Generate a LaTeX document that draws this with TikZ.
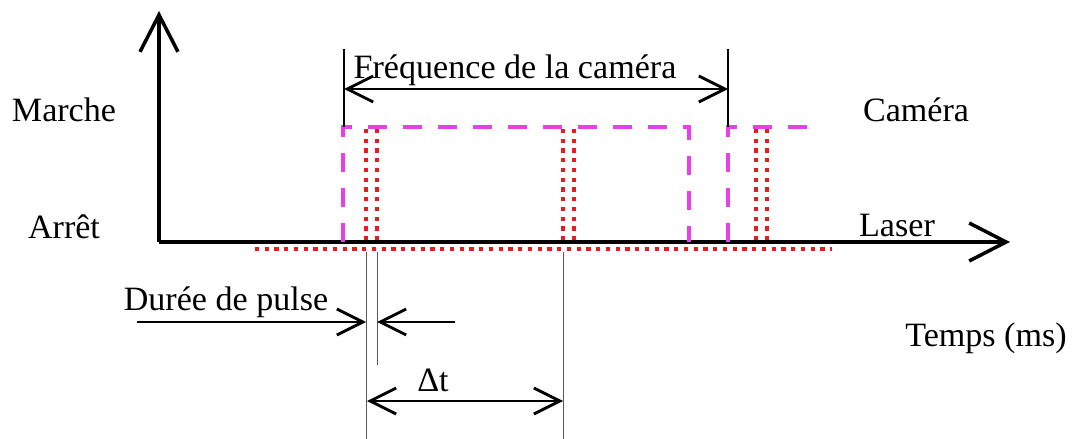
\documentclass[tikz,border=0pt]{standalone}
\usepackage{fontspec}
\setmainfont{Liberation Serif}
\usetikzlibrary{arrows.meta,positioning}
\definecolor{camrose}{RGB}{232,64,232}
\definecolor{laserrouge}{RGB}{228,30,30}

\begin{document}
\begin{tikzpicture}[x=0.02cm,y=-0.02cm,font=\fontsize{19.4}{21}\selectfont,
  lbl/.style={inner sep=0pt},
  axe/.style={line width=2pt,-{Straight Barb[length=0.74cm,width=0.76cm,line width=2pt]}},
  cote/.style={line width=1.6pt},
  pointe/.tip={Straight Barb[length=0.52cm,width=0.52cm,line width=1.6pt]},
  repere/.style={gray!70!black,line width=0.5pt},
  camera/.style={draw=camrose,line width=2.3pt,dash pattern=on 0.38cm off 0.32cm},
  laser/.style={draw=laserrouge,line width=2.4pt,dash pattern=on 0.085cm off 0.11cm}]
\useasboundingbox (0,0) rectangle (1072,439);
% axes
\coordinate (o) at (159,242);
\coordinate (yt) at (159,11);
\coordinate (xt) at (1010,242);
\draw[axe] (o)--(yt);
\draw[axe] (o)--(xt);
% signal camera
\draw[camera] (343,242)--(343,127)--(689,127)--(689,242);
\draw[camera] (728,242)--(728,127)--(822,127);
% impulsions laser
\foreach \px in {366,377,563,574,756,767}
  \draw[laser] (\px,129)--(\px,242);
\draw[laser] (255,249)--(832,249);
% frequence de la camera
\coordinate (fa) at (344,49);
\coordinate (fb) at (728,49);
\coordinate (fa0) at (344,127);
\coordinate (fb0) at (728,127);
\draw[cote] (fa)--(fa0);
\draw[cote] (fb)--(fb0);
\draw[cote,pointe-pointe] (344,89)--(728,89);
\node[lbl] (freq) at (515,70) {Fréquence de la caméra};
% lignes de repere
\draw[repere] (366,252)--(366,439);
\draw[repere] (377,252)--(377,365);
\draw[repere] (563,252)--(563,439);
% duree de pulse
\coordinate (d1) at (137,322);
\coordinate (d2) at (366,322);
\coordinate (d3) at (455,322);
\coordinate (d4) at (377,322);
\draw[cote,-pointe] (d1)--(d2);
\draw[cote,-pointe] (d3)--(d4);
\node[lbl] (duree) at (226,302) {Durée de pulse};
% delta t
\coordinate (t1) at (367,401);
\coordinate (t2) at (563,401);
\draw[cote,pointe-pointe] (t1)--(t2);
\node[lbl] (dt) at (433,380) {Δt};
% etiquettes
\node[lbl] (marche) at (64,110) {Marche};
\node[lbl] (arret) at (64,227) {Arrêt};
\node[lbl] (cam) at (916,110) {Caméra};
\node[lbl] (laser) at (897,226) {Laser};
\node[lbl] (temps) at (986,338) {Temps (ms)};
\end{tikzpicture}
\end{document}
